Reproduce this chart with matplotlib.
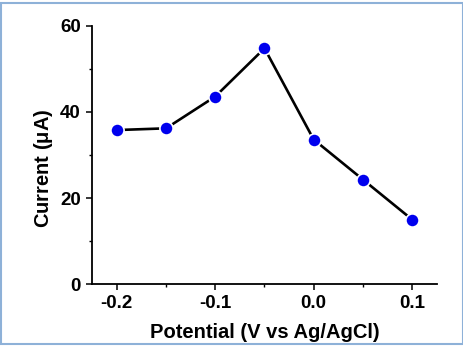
import numpy as np
import matplotlib
matplotlib.use("Agg")
import matplotlib.pyplot as plt
from matplotlib.patches import Rectangle
from matplotlib.ticker import MultipleLocator

# data
potential = [-0.2, -0.15, -0.1, -0.05, 0.0, 0.05, 0.1]
current = [35.8, 36.2, 43.6, 54.8, 33.6, 24.3, 15.0]

x_ticks = [-0.2, -0.1, 0.0, 0.1]
x_labels = ["-0.2", "-0.1", "0.0", "0.1"]
y_ticks = [0, 20, 40, 60]

plt.rcParams['font.family'] = ['Liberation Sans', 'DejaVu Sans']
plt.rcParams['font.weight'] = 'bold'

fig = plt.figure(figsize=(4.64, 3.46), dpi=100)
ax = fig.add_axes([0.198, 0.179, 0.744, 0.746])

ax.plot(potential, current, color='black', lw=1.9, marker='o', ms=9.5,
        mfc='#0000ee', mec='white', mew=1.2, zorder=3)

ax.set_xlim(-0.2254, 0.1254)
ax.set_ylim(0, 60)
ax.set_xticks(x_ticks)
ax.set_xticklabels(x_labels)
ax.set_yticks(y_ticks)
ax.xaxis.set_minor_locator(MultipleLocator(0.05))
ax.yaxis.set_minor_locator(MultipleLocator(10))

ax.spines['top'].set_visible(False)
ax.spines['right'].set_visible(False)
for s in ['left', 'bottom']:
    ax.spines[s].set_linewidth(1.3)

ax.tick_params(which='major', direction='out', length=4, width=1.1,
               labelsize=13.5, pad=4)
ax.tick_params(which='minor', direction='out', length=2.5, width=1.0)
for lab in ax.get_xticklabels() + ax.get_yticklabels():
    lab.set_fontweight('bold')

ax.set_xlabel("Potential (V vs Ag/AgCl)", fontsize=14.5, fontweight='bold',
              labelpad=8)
ax.set_ylabel("Current ($\\mathregular{\\mu}$A)", fontsize=14.5,
              fontweight='bold')
ax.yaxis.set_label_coords(-0.108, 0.45)

# thin blue frame around the figure
fig.patches.append(Rectangle((0.003, 0.006), 0.994, 0.986, transform=fig.transFigure,
                             fill=False, edgecolor='#8eb1d8', lw=1.5))

fig.savefig("out.png", dpi=100)
